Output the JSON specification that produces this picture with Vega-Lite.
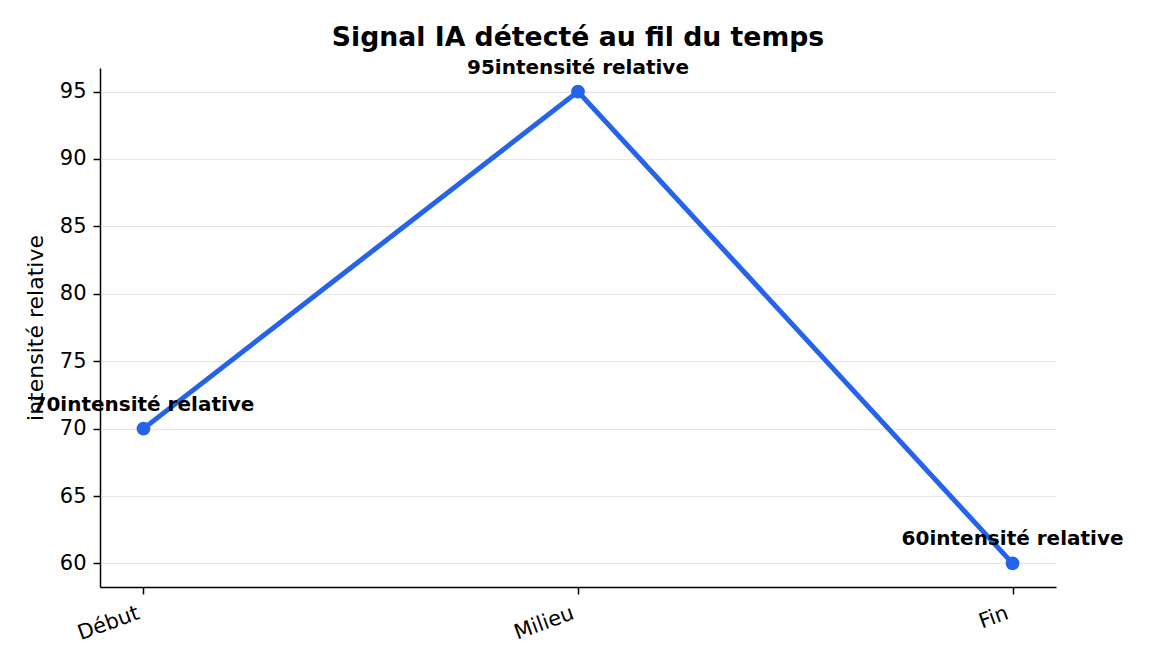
{
  "$schema": "https://vega.github.io/schema/vega-lite/v6.json",
  "autosize": "none",
  "width": 956,
  "height": 519,
  "padding": {"left": 100, "top": 68, "right": 96, "bottom": 85},
  "background": "white",
  "config": {
    "font": "DejaVu Sans",
    "view": {"stroke": null}
  },
  "title": {
    "text": "Signal IA détecté au fil du temps",
    "fontSize": 26.7,
    "fontWeight": "bold",
    "font": "DejaVu Sans",
    "color": "black",
    "anchor": "middle",
    "offset": 6
  },
  "data": {
    "values": [
      {"phase": "Début", "value": 70, "label": "70intensité relative"},
      {"phase": "Milieu", "value": 95, "label": "95intensité relative"},
      {"phase": "Fin", "value": 60, "label": "60intensité relative"}
    ]
  },
  "encoding": {
    "x": {
      "field": "phase",
      "type": "ordinal",
      "sort": ["Début", "Milieu", "Fin"],
      "scale": {"type": "point", "padding": 0.1},
      "axis": {
        "title": null,
        "labelAngle": -20,
        "labelAlign": "right",
        "labelBaseline": "top",
        "labelFontSize": 21,
        "labelColor": "black",
        "labelPadding": 8,
        "labelOffset": -9,
        "tickColor": "black",
        "tickSize": 7,
        "tickWidth": 1.5,
        "domainColor": "black",
        "domainWidth": 1.5,
        "grid": false
      }
    },
    "y": {
      "field": "value",
      "type": "quantitative",
      "scale": {"domain": [58.25, 96.75], "nice": false, "zero": false},
      "axis": {
        "title": "intensité relative",
        "titleFontSize": 22,
        "titleFontWeight": "normal",
        "titleColor": "black",
        "titlePadding": 12,
        "values": [60, 65, 70, 75, 80, 85, 90, 95],
        "labelFontSize": 21,
        "labelColor": "black",
        "labelPadding": 7,
        "tickColor": "black",
        "tickSize": 7,
        "tickWidth": 1.5,
        "domainColor": "black",
        "domainWidth": 1.5,
        "grid": true,
        "gridColor": "#e6e6e6",
        "gridWidth": 1.2
      }
    }
  },
  "layer": [
    {
      "mark": {"type": "line", "color": "#2563eb", "strokeWidth": 5}
    },
    {
      "mark": {"type": "point", "filled": true, "color": "#2563eb", "size": 190, "opacity": 1}
    },
    {
      "mark": {"type": "text", "fontSize": 20, "fontWeight": "bold", "color": "black", "dy": -24, "baseline": "middle", "align": "center"},
      "encoding": {"text": {"field": "label"}}
    }
  ]
}
